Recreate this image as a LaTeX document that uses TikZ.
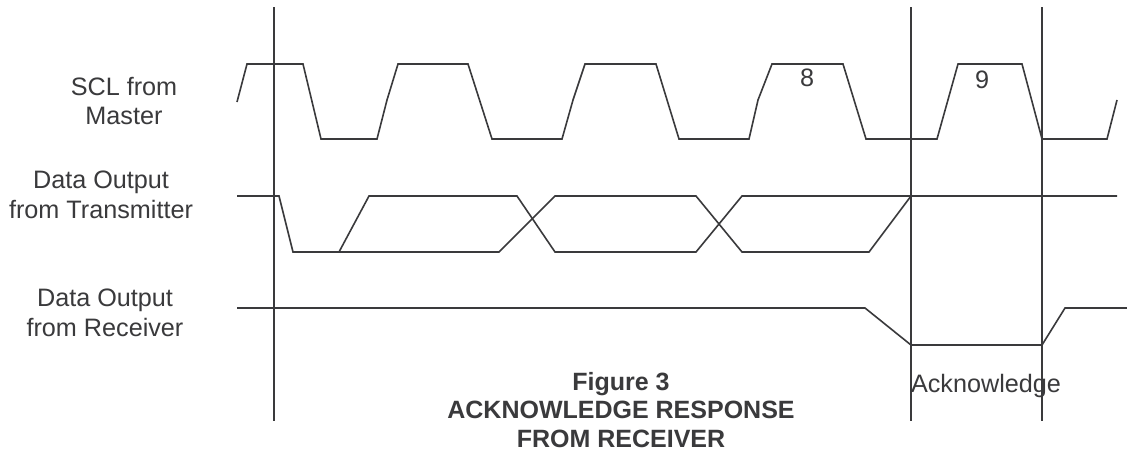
\documentclass[tikz,border=0pt]{standalone}
\usepackage{fontspec}
\setmainfont{Liberation Sans}
\definecolor{ink}{HTML}{3A3A3C}
\begin{document}
\begin{tikzpicture}[x=1pt,y=-1pt,
  sig/.style={draw=ink,line width=1.6pt,line join=miter},
  marker/.style={draw=ink,line width=1.6pt},
  lbl/.style={text=ink,font=\fontsize{25.2}{29.5}\selectfont,align=center,inner sep=0pt},
  figcap/.style={text=ink,font=\bfseries\fontsize{25}{28.5}\selectfont,align=center,inner sep=0pt}]
\useasboundingbox[fill=white] (0,0) rectangle (1127,453);
% labels
\node[lbl] (scl) at (124,101) {SCL from\\Master};
\node[lbl] (dot) at (101,195) {Data Output\\from Transmitter};
\node[lbl] (dor) at (105,313) {Data Output\\from Receiver};
\node[lbl] (n8) at (807,78) {8};
\node[lbl] (n9) at (982,80) {9};
\node[lbl] (ack) at (986,386) {Acknowledge};
\node[figcap] (fig) at (621,410) {Figure 3\\ACKNOWLEDGE RESPONSE\\FROM RECEIVER};
% vertical markers
\coordinate (v1t) at (274,7); \coordinate (v1b) at (274,421);
\coordinate (v2t) at (911,7); \coordinate (v2b) at (911,421);
\coordinate (v3t) at (1042,7); \coordinate (v3b) at (1042,421);
\draw[marker] (v1t) -- (v1b);
\draw[marker] (v2t) -- (v2b);
\draw[marker] (v3t) -- (v3b);
% SCL
\draw[sig] (237,102)--(247,64)--(303,64)--(321,139)--(377,139)--(387,100)--(398,64)--(468,64)--(492,139)--(562,139)--(573,100)--(585,64)--(656,64)--(679,139)--(749,139)--(758,100)--(772,64)--(843,64)--(866,139)--(937,139)--(958,64)--(1022,64)--(1042,139)--(1107,139)--(1117,100);
% Data output from transmitter
\draw[sig] (237,196)--(279,196)--(293,252)--(339,252)--(369,196)--(517,196)--(555,252)--(696,252)--(742,196)--(1117,196);
\draw[sig] (339,252)--(499,252)--(555,196)--(696,196)--(742,252)--(869,252)--(911,196);
% Data output from receiver
\draw[sig] (237,308)--(865,308)--(911,345)--(1042,345)--(1065,308)--(1127,308);
\end{tikzpicture}
\end{document}
